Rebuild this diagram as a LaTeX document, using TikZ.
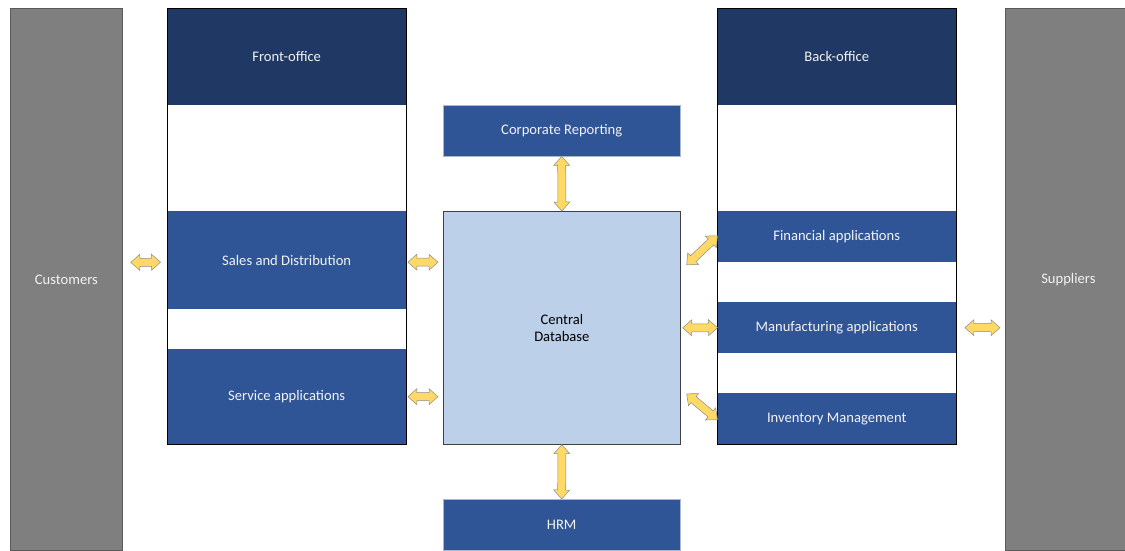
\documentclass[tikz,border=0pt]{standalone}
\usepackage{fontspec}
\setmainfont{Carlito}
\usetikzlibrary{calc}
\definecolor{navy}{HTML}{203864}
\definecolor{midblue}{HTML}{2F5597}
\definecolor{lightblue}{HTML}{BDD0E9}
\definecolor{sidegray}{HTML}{7F7F7F}
\definecolor{sideline}{HTML}{5A5A5A}
\definecolor{arrfill}{HTML}{FFD966}
\definecolor{arrline}{HTML}{8C8C8C}
\definecolor{txt}{HTML}{F2F2F2}
\tikzset{
  blk/.style={rectangle, anchor=north west, inner sep=0pt, text=txt,
    font=\fontsize{14.6}{17}\selectfont, align=center},
  side/.style={blk, fill=sidegray, draw=sideline, line width=0.8pt, minimum width=112pt, minimum height=542pt},
  head/.style={blk, fill=navy, minimum width=239pt, minimum height=97pt},
  app/.style={blk, fill=midblue, minimum width=238pt},
  frame/.style={blk, draw=black, line width=0.9pt, minimum width=239pt, minimum height=436pt},
  pics/dbl/.style={code={
    \draw[fill=arrfill, draw=arrline, line width=0.5pt, line join=miter]
      (0pt,0pt) -- (9pt,8pt) -- (9pt,4pt) -- (#1-9pt,4pt) -- (#1-9pt,8pt) -- (#1,0pt)
      -- (#1-9pt,-8pt) -- (#1-9pt,-4pt) -- (9pt,-4pt) -- (9pt,-8pt) -- cycle;
  }}
}
\newcommand\fatarrow[2]{%
  \path let \p1=($(#2)-(#1)$), \n1={veclen(\x1,\y1)}, \n2={atan2(\y1,\x1)} in
    (#1) pic[rotate=\n2]{dbl=\n1};}
\begin{document}
\begin{tikzpicture}[x=1pt,y=-1pt]
\useasboundingbox (0,0) rectangle (1125,550);
\begin{scope}
\clip (0,0) rectangle (1125,550);
% sides
\node[side] (cust) at (10,8) {Customers};
\node[side, minimum width=126pt] (supp) at (1005,8) {Suppliers};
\end{scope}
% front office
\node[head] (fohead) at (167,8) {Front-office};
\node[app, minimum height=98pt] (sales) at (167.5,211) {Sales and Distribution};
\node[app, minimum height=95pt] (serv) at (167.5,349) {Service applications};
\node[frame] (fo) at (167,8) {};
% back office
\node[head] (bohead) at (717,8) {Back-office};
\node[app, minimum height=51pt] (fin) at (717.5,211) {Financial applications};
\node[app, minimum height=51pt] (manu) at (717.5,302) {Manufacturing applications};
\node[app, minimum height=51pt] (inv) at (717.5,393) {Inventory Management};
\node[frame] (bo) at (717,8) {};
% centre
\node[app, minimum width=237pt, minimum height=51pt, draw=lightblue!70!gray, line width=0.4pt] (corp) at (443,105) {Corporate Reporting};
\node[blk, fill=lightblue, draw=black!75, line width=0.7pt, minimum width=237pt, minimum height=233pt, text=black] (cdb) at (443,211) {Central\\Database};
\node[app, minimum width=237pt, minimum height=51pt, draw=lightblue!70!gray, line width=0.4pt] (hrm) at (443,499) {HRM};
% connector ends
\coordinate (c1) at ($(cust.east)+(8,-17)$);
\coordinate (c2) at ($(sales.west)+(-7,2)$);
\coordinate (s1) at ($(sales.east)+(2,2)$);
\coordinate (s2) at ($(cdb.west |- s1)+(-5,0)$);
\coordinate (v1) at ($(serv.east)+(2,0)$);
\coordinate (v2) at ($(cdb.west |- v1)+(-5,0)$);
\coordinate (f1) at ($(cdb.east)+(6,-63)$);
\coordinate (f2) at ($(fin.west)+(0,-1)$);
\coordinate (m1) at ($(cdb.east)+(2,0)$);
\coordinate (m2) at (manu.west);
\coordinate (i1) at ($(cdb.east)+(6,66)$);
\coordinate (i2) at ($(inv.west)+(0,1)$);
\coordinate (p1) at ($(manu.east)+(9,0)$);
\coordinate (p2) at ($(supp.west |- p1)+(-5,0)$);
% connectors
\fatarrow{c1}{c2}
\fatarrow{s1}{s2}
\fatarrow{v1}{v2}
\fatarrow{corp.south}{cdb.north}
\fatarrow{cdb.south}{hrm.north}
\fatarrow{f1}{f2}
\fatarrow{m1}{m2}
\fatarrow{i1}{i2}
\fatarrow{p1}{p2}
\end{tikzpicture}
\end{document}
